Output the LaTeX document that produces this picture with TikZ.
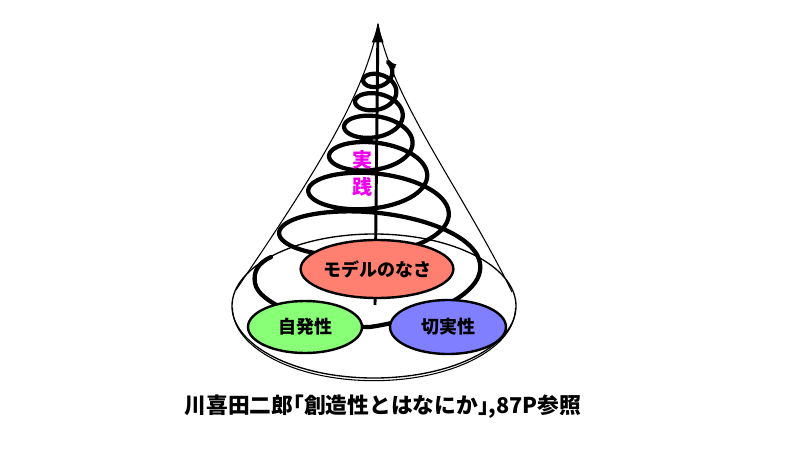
\documentclass[tikz,border=0pt]{standalone}
\usepackage{fontspec}
\newfontfamily\jp{Noto Sans CJK JP}
\newfontfamily\jpcap[RawFeature=+halt]{Noto Sans CJK JP}
\usetikzlibrary{arrows.meta,shapes.geometric}
\definecolor{salmonc}{RGB}{255,127,112}
\definecolor{greenc}{RGB}{136,255,119}
\definecolor{bluec}{RGB}{127,127,255}
\definecolor{magc}{RGB}{238,0,238}
\begin{document}
\begin{tikzpicture}[x=0.75pt,y=-0.75pt,
  spiralline/.style={line width=3.2pt, line join=round, line cap=round},
  thinline/.style={line width=0.8pt},
  baseline/.style={line width=1pt},
  axisline/.style={line width=2.2pt},
  topic/.style={ellipse, draw=black, line width=1.8pt, inner sep=0pt,
    font=\jp\bfseries\fontsize{13.5}{16}\selectfont},
  vert/.style={text=magc, inner sep=0pt, font=\jpcap\bfseries\fontsize{15}{18}\selectfont},
  caption/.style={inner sep=0pt, font=\jpcap\bfseries\fontsize{16.3}{19}\selectfont}]
\useasboundingbox (0,0) rectangle (800,450);
% cone
\coordinate (apexl) at (378,24);
\coordinate (cl) at (236,290);
\coordinate (cr) at (512,292);
\draw[baseline] (374,306) ellipse [x radius=106.5pt, y radius=54pt];
\draw[thinline] (apexl) .. controls (365,100) and (300,195) .. (cl);
\draw[thinline] (apexl) .. controls (392,100) and (462,190) .. (cr);
\draw[thinline] (374,308) ++(-141.5,0) arc[start angle=180, end angle=360, x radius=106.1pt, y radius=54.5pt];
% spiral
\coordinate (sp0) at (271,257);
\coordinate (sp1) at (255,283);
\coordinate (sp2) at (370,327);
\draw[spiralline, -{Latex[length=7pt,width=6pt]}]
  (sp0) .. controls (258,263) and (253,272) .. (sp1)
  .. controls (258,305) and (320,327) .. (sp2)
  -- plot[domain=0:6.4, samples=500, variable=\s, smooth]
  ({370 + 1.5*\s + 120*pow(0.7,\s)*cos(90-360*\s)},
   {-40.5 + 309*pow(0.85,\s) + 18.5*exp(-3.3*\s) + 40*pow(0.8,\s)*sin(90-360*\s)});
% axis
\coordinate (axisbot) at (375,305);
\coordinate (apex) at (378,21);
\draw[axisline, -{Latex[length=16pt,width=9pt]}] (axisbot) -- (apex);
% labels
\node[vert] (jitsu) at (362,160) {実};
\node[vert] (sen) at (362,187) {践};
\node[topic, fill=salmonc, minimum width=90pt, minimum height=43.5pt] (model) at (377,269) {モデルのなさ};
\node[topic, fill=greenc, minimum width=85.5pt, minimum height=39pt] (jihatsu) at (305,327) {自発性};
\node[topic, fill=bluec, minimum width=87pt, minimum height=40.5pt] (setsu) at (448,327) {切実性};
\node[caption] (cap) at (383,407) {川喜田二郎「創造性とはなにか」,87P参照};
\end{tikzpicture}
\end{document}
